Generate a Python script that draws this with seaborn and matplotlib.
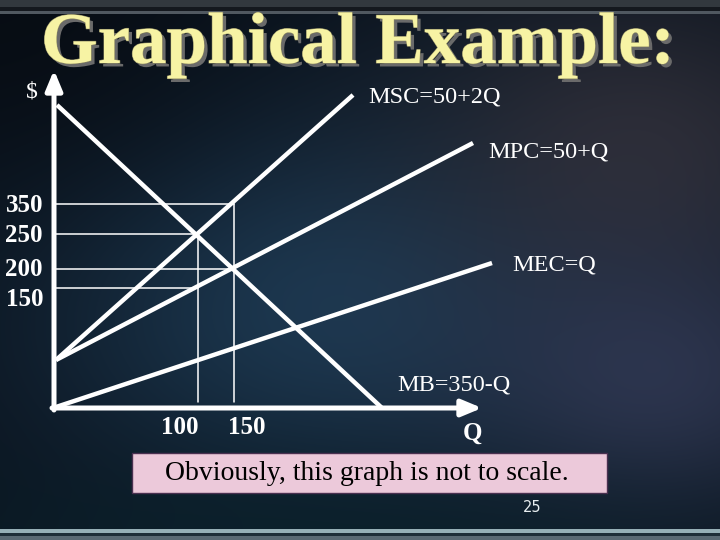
import numpy as np
import pandas as pd
import matplotlib
matplotlib.use("Agg")
import matplotlib.pyplot as plt
import matplotlib.patheffects as pe
from matplotlib.patches import Rectangle
import seaborn as sns

sns.set_theme(style="white")
plt.rcParams['font.family'] = ['Liberation Serif', 'DejaVu Serif']

# ---- data (drawing units; the graph is "not to scale") ----
curve_names = ["MSC", "MPC", "MEC", "MB"]
curve_x = [[0, 297], [0, 417], [0, 436], [1, 326]]
curve_y = [[48, 313], [48, 265], [1, 145], [303, 0]]
curve_labels = ["MSC=50+2Q", "MPC=50+Q", "MEC=Q", "MB=350-Q"]

# guide lines: horizontal (y, x_end) and vertical (x, y_top)
hguide_y = [204, 174, 139, 120]
hguide_xend = [178, 142, 178, 142]
vguide_x = [142, 178]
vguide_ytop = [174, 204]

ytick_pos = [203, 173, 138, 108]
ytick_labels = ["350", "250", "200", "150"]
xtick_pos = [124, 191]
xtick_labels = ["100", "150"]

title = "Graphical Example:"
note = "Obviously, this graph is not to scale."
slide_no = "25"

W, H = 720, 540
fig = plt.figure(figsize=(7.2, 5.4), dpi=100)

# ---- background gradient ----
yy, xx = np.mgrid[0:H, 0:W]
def blob(cx, cy, sx, sy):
    return np.exp(-(((xx - cx) / sx) ** 2 + ((yy - cy) / sy) ** 2))
img = np.ones((H, W, 3)) * np.array([10, 18, 28]) / 255
def lerp(img, w, c):
    w = np.clip(w, 0, 1)[..., None]
    return img * (1 - w) + np.array(c) / 255 * w
img = lerp(img, 0.9 * blob(330, 300, 300, 200), (30, 60, 86))
img = lerp(img, 0.8 * blob(640, 150, 220, 160), (52, 50, 60))
img = lerp(img, 0.7 * blob(660, 380, 200, 140), (55, 62, 92))
img = lerp(img, 0.8 * blob(300, 560, 400, 90), (10, 34, 44))
img = lerp(img, 0.7 * blob(0, 0, 260, 200), (6, 10, 16))
img[0:7] = np.array([50, 56, 62]) / 255
img[7:11] = np.array([20, 24, 30]) / 255
img[11:14] = np.array([80, 88, 96]) / 255
img[529:533] = np.array([150, 175, 182]) / 255
img[533:536] = np.array([30, 45, 55]) / 255
img[536:540] = np.array([90, 105, 115]) / 255

bg = fig.add_axes([0, 0, 1, 1])
bg.imshow(img, extent=(0, W, H, 0), aspect='auto', interpolation='bilinear')
bg.set_xlim(0, W)
bg.set_ylim(H, 0)
bg.axis('off')

# title
t = bg.text(358, 63, title, fontsize=52.5, fontweight='bold', color='#f7f3a4',
            ha='center', va='baseline', family=['Liberation Serif'])
t.set_path_effects([pe.withSimplePatchShadow(offset=(2.5, -2.5), shadow_rgbFace='#6a6a6a', alpha=1.0),
                    pe.withStroke(linewidth=0.8, foreground='#8a8660')])

# note box
bg.add_patch(Rectangle((132, 453), 475, 40, facecolor='#ecc9da', edgecolor='#4a3050', lw=1.0))
bg.text(367, 474, note, fontsize=20, color='black', ha='center', va='center')
bg.text(532, 507, slide_no, fontsize=10.5, color='#e8eef0', ha='center', va='center',
        family=['DejaVu Sans'])

# ---- main chart axes ----
ax = fig.add_axes([56 / W, (H - 408) / H, (480 - 56) / W, (408 - 72) / H])
ax.set_xlim(0, 424)
ax.set_ylim(0, 336)
ax.patch.set_alpha(0)
ax.axis('off')

rows = []
for n, xs, ys in zip(curve_names, curve_x, curve_y):
    for x, y in zip(xs, ys):
        rows.append({"curve": n, "x": x, "y": y})
df = pd.DataFrame(rows)

guide_rows = []
for i, (y, xe) in enumerate(zip(hguide_y, hguide_xend)):
    guide_rows += [{"g": f"h{i}", "x": 0, "y": y}, {"g": f"h{i}", "x": xe, "y": y}]
for i, (x, yt) in enumerate(zip(vguide_x, vguide_ytop)):
    guide_rows += [{"g": f"v{i}", "x": x, "y": yt}, {"g": f"v{i}", "x": x, "y": 6}]
gdf = pd.DataFrame(guide_rows)

sns.lineplot(data=gdf, x="x", y="y", units="g", estimator=None, sort=False,
             color='white', lw=1.1, ax=ax, legend=False)
sns.lineplot(data=df, x="x", y="y", units="curve", estimator=None, sort=False,
             color='white', lw=3.2, ax=ax, legend=False, clip_on=False,
             solid_capstyle='butt')
ax.set_xlim(0, 424)
ax.set_ylim(0, 336)
ax.axis('off')

# axes arrows
arrow_kw = dict(arrowstyle='-|>,head_length=1.2,head_width=0.5', color='white', lw=3.6,
                shrinkA=0, shrinkB=0, mutation_scale=10)
ax.annotate('', xy=(-2, 338), xytext=(-2, -2), arrowprops=arrow_kw, annotation_clip=False)
ax.annotate('', xy=(426, 0), xytext=(-4, 0), arrowprops=arrow_kw, annotation_clip=False)

# tick labels
for p, lab in zip(ytick_pos, ytick_labels):
    ax.text(-13, p, lab, fontsize=18, fontweight='bold', color='white', ha='right', va='center')
for p, lab in zip(xtick_pos, xtick_labels):
    ax.text(p, -19, lab, fontsize=18, fontweight='bold', color='white', ha='center', va='center')

# curve labels
label_pos = [(312, 311), (432, 256), (456, 143), (341, 23)]
for (x, y), lab in zip(label_pos, curve_labels):
    ax.text(x, y, lab, fontsize=17.5, color='white', ha='left', va='center')
ax.text(416, -25, "Q", fontsize=18, fontweight='bold', color='white', ha='center', va='center')
ax.text(-24, 316, "$", fontsize=17, color='white', ha='center', va='center')

fig.savefig("out.png", dpi=100)
